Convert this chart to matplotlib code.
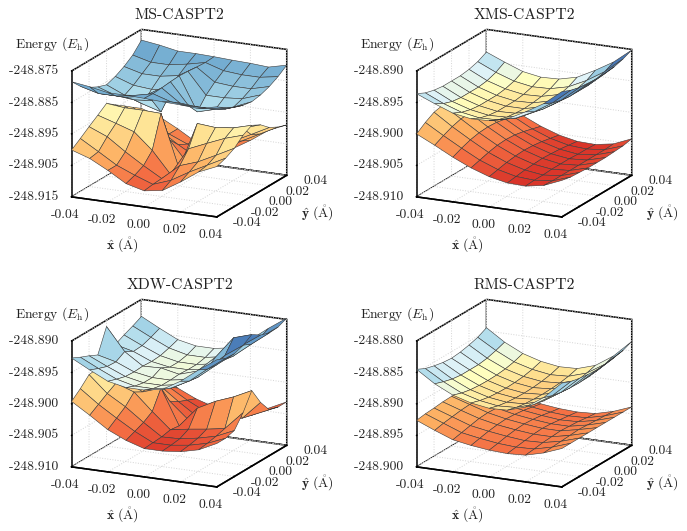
import numpy as np
import matplotlib
matplotlib.use('Agg')
import matplotlib.pyplot as plt
from matplotlib.colors import Normalize

plt.rcParams['font.family'] = ['cmr10', 'DejaVu Sans']
plt.rcParams['mathtext.fontset'] = 'cm'
plt.rcParams['axes.unicode_minus'] = False
plt.rcParams['grid.linestyle'] = ':'
plt.rcParams['grid.color'] = '#d4d4d4'
plt.rcParams['grid.linewidth'] = 0.7

W, H = 687, 531

# displacement grid in angstrom
grid = [-0.04, -0.03, -0.02, -0.01, 0.00, 0.01, 0.02, 0.03, 0.04]
ticks = [-0.04, -0.02, 0.00, 0.02, 0.04]
tick_labels = ['-0.04', '-0.02', '0.00', '0.02', '0.04']

titles = ['MS-CASPT2', 'XMS-CASPT2', 'XDW-CASPT2', 'RMS-CASPT2']
z_ticks = [
    [-248.915, -248.905, -248.895, -248.885, -248.875],
    [-248.910, -248.905, -248.900, -248.895, -248.890],
    [-248.910, -248.905, -248.900, -248.895, -248.890],
    [-248.900, -248.895, -248.890, -248.885, -248.880],
]
z_labels = [
    ['-248.915', '-248.905', '-248.895', '-248.885', '-248.875'],
    ['-248.910', '-248.905', '-248.900', '-248.895', '-248.890'],
    ['-248.910', '-248.905', '-248.900', '-248.895', '-248.890'],
    ['-248.900', '-248.895', '-248.890', '-248.885', '-248.880'],
]
# energies below are in mEh relative to this value, rows = x, columns = y
refs = [-248.895, -248.900, -248.900, -248.890]

ms_low = [
    [-5.1, -3.1, -1.0, 1.0, 3.1, 1.0, -1.0, -3.1, -5.1],
    [-7.0, -6.5, -3.4, -0.8, 2.5, -0.8, -3.4, -6.5, -7.0],
    [-10.0, -10.0, -7.4, -2.7, 2.5, -2.7, -7.4, -10.0, -10.0],
    [-13.4, -12.4, -11.0, -7.8, 2.3, -7.8, -11.0, -12.4, -13.4],
    [-14.9, -14.5, -14.3, -14.6, -14.5, -14.6, -14.3, -14.5, -14.9],
    [-14.0, -12.4, -9.4, -5.7, 0.7, -5.7, -9.4, -12.4, -14.0],
    [-10.5, -9.0, -7.4, -3.2, 0.2, -3.2, -7.4, -9.0, -10.5],
    [-6.5, -6.0, -4.5, -0.8, 0.9, -0.8, -4.5, -6.0, -6.5],
    [-4.0, -3.0, -1.5, 1.0, 2.5, 1.0, -1.5, -3.0, -4.0],
]
ms_up = [
    [16.6, 13.5, 11.5, 10.0, 9.0, 10.0, 11.5, 13.5, 16.6],
    [15.8, 12.0, 10.0, 8.0, 6.5, 8.0, 10.0, 12.0, 15.8],
    [14.7, 12.0, 10.0, 7.5, 4.5, 7.5, 10.0, 12.0, 14.7],
    [14.7, 13.0, 11.0, 8.0, 2.8, 8.0, 11.0, 13.0, 14.7],
    [14.5, 14.3, 14.5, 14.8, 15.0, 14.8, 14.5, 14.3, 14.5],
    [14.2, 12.5, 10.5, 8.0, 4.4, 8.0, 10.5, 12.5, 14.2],
    [14.0, 12.0, 10.0, 8.0, 6.0, 8.0, 10.0, 12.0, 14.0],
    [13.6, 12.0, 10.0, 8.5, 7.5, 8.5, 10.0, 12.0, 13.6],
    [15.0, 13.0, 11.5, 10.5, 10.0, 10.5, 11.5, 13.0, 15.0],
]
xms_low = [
    [0.0, 1.0, 1.8, 2.1, 2.2, 2.1, 1.8, 1.0, 0.0],
    [-1.4, -0.7, -0.1, 0.3, 0.4, 0.3, -0.1, -0.7, -1.4],
    [-2.9, -2.3, -1.8, -1.5, -1.4, -1.5, -1.8, -2.3, -2.9],
    [-4.2, -3.8, -3.4, -3.1, -3.0, -3.1, -3.4, -3.8, -4.2],
    [-5.2, -4.9, -4.6, -4.4, -4.3, -4.4, -4.6, -4.9, -5.2],
    [-5.8, -5.6, -5.4, -5.3, -5.2, -5.3, -5.4, -5.6, -5.8],
    [-5.9, -5.8, -5.8, -5.7, -5.7, -5.7, -5.8, -5.8, -5.9],
    [-5.4, -5.5, -5.5, -5.5, -5.5, -5.5, -5.5, -5.5, -5.4],
    [-4.2, -4.5, -4.6, -4.7, -4.7, -4.7, -4.6, -4.5, -4.2],
]
xms_up = [
    [6.4, 5.7, 5.3, 5.1, 5.1, 5.1, 5.3, 5.7, 6.4],
    [5.2, 4.4, 3.9, 3.7, 3.7, 3.7, 3.9, 4.4, 5.2],
    [4.1, 3.4, 3.0, 2.8, 2.8, 2.8, 3.0, 3.4, 4.1],
    [3.6, 2.9, 2.5, 2.3, 2.3, 2.3, 2.5, 2.9, 3.6],
    [3.7, 3.0, 2.6, 2.4, 2.3, 2.4, 2.6, 3.0, 3.7],
    [4.4, 3.7, 3.3, 3.1, 3.0, 3.1, 3.3, 3.7, 4.4],
    [5.9, 5.1, 4.7, 4.5, 4.4, 4.5, 4.7, 5.1, 5.9],
    [7.6, 6.9, 6.5, 6.3, 6.3, 6.3, 6.5, 6.9, 7.6],
    [9.9, 9.3, 8.9, 8.7, 8.7, 8.7, 8.9, 9.3, 9.9],
]
xdw_low = [
    [0.4, 1.6, 3.0, 3.2, 3.3, 3.2, 3.0, 1.6, 0.4],
    [-1.4, -0.5, 0.4, 1.2, 0.8, 1.2, 0.4, -0.5, -1.4],
    [-3.3, -2.3, -1.3, 0.2, -0.6, 0.2, -1.3, -2.3, -3.3],
    [-4.6, -4.0, -3.4, -2.5, 0.4, -2.5, -3.4, -4.0, -4.6],
    [-5.5, -5.4, -5.3, -5.0, -5.2, -5.0, -5.3, -5.4, -5.5],
    [-5.5, -5.4, -5.2, -4.5, -2.0, -4.5, -5.2, -5.4, -5.5],
    [-5.2, -5.0, -4.7, -4.1, -0.5, -4.1, -4.7, -5.0, -5.2],
    [-4.5, -4.3, -4.0, -3.6, 0.6, -3.6, -4.0, -4.3, -4.5],
    [-3.1, -3.1, -2.7, -0.7, 2.0, -0.7, -2.7, -3.1, -3.1],
]
xdw_up = [
    [7.3, 6.6, 6.0, 5.3, 9.0, 5.3, 6.0, 6.6, 7.3],
    [5.8, 5.2, 4.7, 4.6, 5.4, 4.6, 4.7, 5.2, 5.8],
    [4.4, 3.9, 3.5, 3.4, 3.5, 3.4, 3.5, 3.9, 4.4],
    [3.8, 3.2, 2.9, 2.9, 3.6, 2.9, 2.9, 3.2, 3.8],
    [3.8, 3.2, 2.9, 2.9, 3.0, 2.9, 2.9, 3.2, 3.8],
    [4.3, 3.7, 3.4, 3.4, 3.9, 3.4, 3.4, 3.7, 4.3],
    [6.0, 5.2, 5.0, 5.4, 6.5, 5.4, 5.0, 5.2, 6.0],
    [8.2, 7.5, 7.3, 8.0, 10.0, 8.0, 7.3, 7.5, 8.2],
    [10.2, 9.6, 9.5, 10.0, 10.9, 10.0, 9.5, 9.6, 10.2],
]
rms_low = [
    [-2.6, -2.4, -2.3, -2.15, -2.1, -2.15, -2.3, -2.4, -2.6],
    [-3.8, -3.5, -3.3, -3.1, -3.0, -3.1, -3.3, -3.5, -3.8],
    [-4.9, -4.6, -4.3, -4.0, -3.9, -4.0, -4.3, -4.6, -4.9],
    [-5.4, -5.1, -4.8, -4.6, -4.5, -4.6, -4.8, -5.1, -5.4],
    [-5.75, -5.5, -5.2, -5.0, -4.9, -5.0, -5.2, -5.5, -5.75],
    [-5.9, -5.7, -5.5, -5.3, -5.2, -5.3, -5.5, -5.7, -5.9],
    [-5.75, -5.6, -5.4, -5.3, -5.2, -5.3, -5.4, -5.6, -5.75],
    [-5.0, -4.9, -4.8, -4.7, -4.6, -4.7, -4.8, -4.9, -5.0],
    [-3.9, -3.9, -3.9, -3.9, -3.9, -3.9, -3.9, -3.9, -3.9],
]
rms_up = [
    [5.5, 4.8, 4.4, 4.1, 3.95, 4.1, 4.4, 4.8, 5.5],
    [3.6, 3.1, 2.7, 2.5, 2.5, 2.5, 2.7, 3.1, 3.6],
    [2.2, 1.7, 1.4, 1.25, 1.2, 1.25, 1.4, 1.7, 2.2],
    [1.35, 0.9, 0.6, 0.45, 0.4, 0.45, 0.6, 0.9, 1.35],
    [0.9, 0.45, 0.2, 0.05, 0.0, 0.05, 0.2, 0.45, 0.9],
    [1.0, 0.6, 0.35, 0.25, 0.2, 0.25, 0.35, 0.6, 1.0],
    [1.9, 1.5, 1.2, 1.05, 1.0, 1.05, 1.2, 1.5, 1.9],
    [3.8, 3.3, 3.0, 2.85, 2.8, 2.85, 3.0, 3.3, 3.8],
    [6.5, 5.9, 5.6, 5.4, 5.3, 5.4, 5.6, 5.9, 6.5],
]
lower = [ms_low, xms_low, xdw_low, rms_low]
upper = [ms_up, xms_up, xdw_up, rms_up]

# colour limits (mEh) picked per surface to get the palette of the original
low_lims = [(-24.0, 30.6), (-8.6, 17.7), (-8.5, 16.5), (-11.4, 16.4)]
up_lims = [(-42.0, 28.0), (-2.8, 9.8), (-8.0, 12.0), (-4.6, 8.4)]

# centre of each panel in pixels
centres = [(179.5, 121.3), (524.5, 121.3), (179.5, 391.3), (524.5, 391.3)]
AX_SIZE = 270
ZOOM = 0.946
SHIFT_X, SHIFT_Y = -4.0, 5.5

X, Y = np.meshgrid(grid, grid, indexing='ij')
fig = plt.figure(figsize=(W / 100, H / 100), dpi=100)


def px_text(x, y, s, size):
    fig.text(x / W, 1 - y / H, s, fontsize=size, ha='center', va='center', color='#222222')


for i in range(4):
    cx, cy = centres[i]
    ax = fig.add_axes([(cx + SHIFT_X - AX_SIZE / 2) / W, 1 - (cy + SHIFT_Y + AX_SIZE / 2) / H, AX_SIZE / W, AX_SIZE / H],
                      projection='3d', proj_type='ortho')
    ax.patch.set_alpha(0)
    ax.computed_zorder = False
    ax.view_init(elev=16.65, azim=-64.3)
    ax.set_box_aspect((1, 1, 0.815), zoom=ZOOM)

    zmin, zmax = z_ticks[i][0], z_ticks[i][-1]
    ax.set_xlim(-0.04, 0.04, view_margin=0)
    ax.set_ylim(-0.04, 0.04, view_margin=0)
    ax.set_zlim(zmin, zmax, view_margin=0)

    zlow = refs[i] + np.array(lower[i]) / 1000
    zup = refs[i] + np.array(upper[i]) / 1000
    nlow = Normalize(refs[i] + low_lims[i][0] / 1000, refs[i] + low_lims[i][1] / 1000)
    nup = Normalize(refs[i] + up_lims[i][0] / 1000, refs[i] + up_lims[i][1] / 1000)
    ax.plot_surface(X, Y, zlow, cmap='RdYlBu', norm=nlow, rstride=1, cstride=1,
                    edgecolor='#3a3a3a', linewidth=0.4, shade=False, zorder=3)
    ax.plot_surface(X, Y, zup, cmap='RdYlBu', norm=nup, rstride=1, cstride=1,
                    edgecolor='#3a3a3a', linewidth=0.4, shade=False, zorder=4)

    ax.set_xticks(ticks)
    ax.set_yticks(ticks)
    ax.set_zticks(z_ticks[i])
    ax.set_xticklabels([])
    ax.set_yticklabels([])
    ax.set_zticklabels([])
    ax.zaxis.set_ticks_position('lower')

    for a in (ax.xaxis, ax.yaxis, ax.zaxis):
        a.set_pane_color((1, 1, 1, 1))
        a.pane.set_edgecolor('black')
        a.pane.set_linewidth(1.1)
        a.line.set_linewidth(1.1)
        a.line.set_color('black')
        a._axinfo['tick']['inward_factor'] = 0.0
        a._axinfo['tick']['outward_factor'] = 0.05
        a._axinfo['tick']['linewidth'] = {True: 1.0, False: 0.5}
    ax.tick_params(axis='both', color='black')
    ax.tick_params(axis='z', color='black')

    # tick labels, offsets below are in data units
    dz = zmax - zmin
    for t, lab in zip(ticks, tick_labels):
        ax.text(t, -0.0469, zmin - 0.115 * dz, lab, fontsize=9.8, ha='center', va='center', color='#222222')
        ax.text(0.0491, t, zmin - 0.03 * dz, lab, fontsize=9.8, ha='left', va='center', color='#222222')
    for t, lab in zip(z_ticks[i], z_labels[i]):
        ax.text(-0.04, -0.04, t, lab + '   ', fontsize=9.8, ha='right', va='center', color='#222222')

    px_text(cx, cy - 106, titles[i], 11.3)
    px_text(cx - 127.5, cy - 77, r'Energy ($E_{\mathrm{h}}$)', 9.8)
    px_text(cx - 57.5, cy + 123.7, r'$\hat{\mathbf{x}}\ (\mathring{\mathrm{A}})$', 9.8)
    px_text(cx + 138, cy + 92, r'$\hat{\mathbf{y}}\ (\mathring{\mathrm{A}})$', 9.8)

fig.savefig('out.png', dpi=100)
